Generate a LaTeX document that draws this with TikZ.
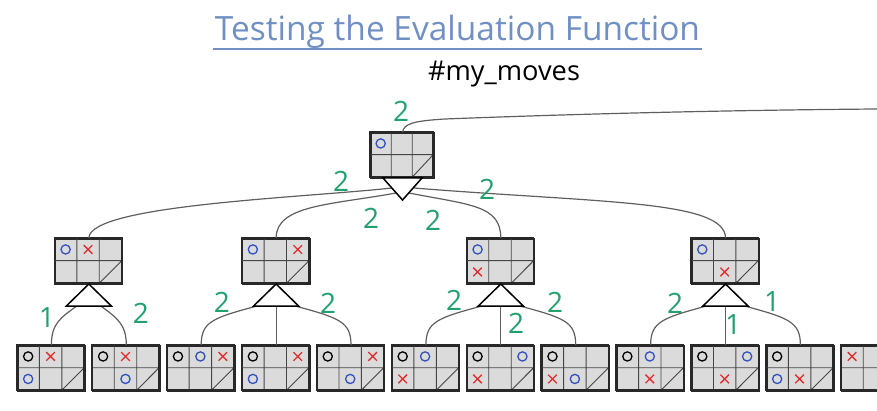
\documentclass[tikz,border=0pt]{standalone}
\usepackage{fontspec}
\newfontfamily\handfont{Open Sans}
\usetikzlibrary{calc}
\definecolor{titleblue}{RGB}{112,144,196}
\definecolor{labgreen}{RGB}{34,160,112}
\definecolor{boardfill}{RGB}{219,219,219}
\definecolor{boardedge}{RGB}{40,40,40}
\definecolor{gridc}{RGB}{70,70,70}
\definecolor{connc}{RGB}{95,95,95}
\definecolor{oblue}{RGB}{50,80,190}
\definecolor{xred}{RGB}{225,45,45}
\tikzset{
  board/.style={draw=boardedge, line width=1.6pt, fill=boardfill, rectangle, inner sep=0pt, minimum height=45pt},
  gridln/.style={draw=gridc, line width=0.9pt},
  conn/.style={draw=connc, line width=1.2pt},
  tri/.style={draw=black, line width=1.5pt, fill=white, line join=miter},
  lab/.style={text=labgreen, font=\handfont\fontsize{28}{28}\selectfont, inner sep=0pt},
  omk/.style={line width=1.3pt},
  xmk/.style={draw=xred, line width=1.3pt},
}
\newcommand{\bdO}[3]{\draw[omk, draw=#3] ({(#1+0.5)*\cw},{(#2+0.5)*22.5}) circle (4.6pt);}
\newcommand{\bdX}[2]{\draw[xmk] ({(#1+0.5)*\cw-4.3},{(#2+0.5)*22.5-4.3}) -- ++(8.6,8.6) ({(#1+0.5)*\cw-4.3},{(#2+0.5)*22.5+4.3}) -- ++(8.6,-8.6);}
\newcommand{\tttboard}[5]{%
  \node[board, minimum width=#4pt] (#1) at (#2,#3) {};
  \begin{scope}[shift={(#1.north west)}]
    \pgfmathsetmacro{\cw}{#4/3}
    \draw[gridln] (\cw,0) -- (\cw,45) (2*\cw,0) -- (2*\cw,45) (0,22.5) -- (#4,22.5) (2*\cw,45) -- (#4,22.5);
    #5
    \draw[draw=boardedge, line width=1.6pt] (0,0) rectangle (#4,45);
  \end{scope}}
\begin{document}
\begin{tikzpicture}[x=1pt,y=-1pt]
\useasboundingbox (0,0) rectangle (877,411);
\clip (0,0) rectangle (877,411);
% title
\node[anchor=base, text=titleblue, inner sep=0pt] (title) at (457.5,41) {\resizebox{485pt}{!}{\handfont\fontsize{31}{31}\selectfont Testing the Evaluation Function}};
\draw[titleblue, line width=1.6pt] (213,49) -- (702,49);
\node[anchor=base, inner sep=0pt] (tag) at (504,81) {\resizebox{152pt}{!}{\handfont\fontsize{27}{27}\selectfont \#my\_moves}};

% coordinates
\coordinate (edgeR) at (877,109);
\coordinate (rtL) at (383,178);
\coordinate (rtA) at (402.5,200);
\coordinate (rtR) at (422,178);
\coordinate (rs1) at (392,188);
\coordinate (rs2) at (396,193);
\coordinate (rs3) at (409,193);
\coordinate (rs4) at (414,188);

% boards
\tttboard{root}{402.5}{155.5}{63}{\bdO{0}{0}{oblue}}
\tttboard{A}{88.85}{261.5}{67.3}{\bdO{0}{0}{oblue}\bdX{1}{0}}
\tttboard{B}{276.1}{261.5}{67.3}{\bdO{0}{0}{oblue}\bdX{2}{0}}
\tttboard{C}{500.8}{261.5}{67.3}{\bdO{0}{0}{oblue}\bdX{0}{1}}
\tttboard{D}{725.5}{261.5}{67.3}{\bdO{0}{0}{oblue}\bdX{1}{1}}

\tttboard{L1}{51.4}{368.5}{67.3}{\bdO{0}{0}{black}\bdX{1}{0}\bdO{0}{1}{oblue}}
\tttboard{L2}{126.3}{368.5}{67.3}{\bdO{0}{0}{black}\bdX{1}{0}\bdO{1}{1}{oblue}}
\tttboard{L3}{201.2}{368.5}{67.3}{\bdO{0}{0}{black}\bdO{1}{0}{oblue}\bdX{2}{0}}
\tttboard{L4}{276.1}{368.5}{67.3}{\bdO{0}{0}{black}\bdX{2}{0}\bdO{0}{1}{oblue}}
\tttboard{L5}{351.0}{368.5}{67.3}{\bdO{0}{0}{black}\bdX{2}{0}\bdO{1}{1}{oblue}}
\tttboard{L6}{425.9}{368.5}{67.3}{\bdO{0}{0}{black}\bdO{1}{0}{oblue}\bdX{0}{1}}
\tttboard{L7}{500.8}{368.5}{67.3}{\bdO{0}{0}{black}\bdO{2}{0}{oblue}\bdX{0}{1}}
\tttboard{L8}{575.7}{368.5}{67.3}{\bdO{0}{0}{black}\bdX{0}{1}\bdO{1}{1}{oblue}}
\tttboard{L9}{650.6}{368.5}{67.3}{\bdO{0}{0}{black}\bdO{1}{0}{oblue}\bdX{1}{1}}
\tttboard{L10}{725.5}{368.5}{67.3}{\bdO{0}{0}{black}\bdO{2}{0}{oblue}\bdX{1}{1}}
\tttboard{L11}{800.4}{368.5}{67.3}{\bdO{0}{0}{black}\bdO{0}{1}{oblue}\bdX{1}{1}}
\tttboard{L12}{875.3}{368.5}{67.3}{\bdX{0}{0}}

% level-1 triangle coordinates
\foreach \n/\cx in {A/88.85,B/276.1,C/500.8,D/725.5}{
  \coordinate (\n-ta) at (\cx,284);
  \coordinate (\n-tl) at ({\cx-22.5},306);
  \coordinate (\n-tr) at ({\cx+22.5},306);
  \coordinate (\n-s1) at ({\cx-12},306);
  \coordinate (\n-s2) at ({\cx+12},306);
  \coordinate (\n-sl) at ({\cx-19},306);
  \coordinate (\n-sm) at (\cx,306);
  \coordinate (\n-sr) at ({\cx+19},306);
}

% connectors
\draw[conn] (root.north) .. controls (404,124) and (412,121) .. (445,119) .. controls (600,113) and (750,110) .. (edgeR);
\draw[conn] (rs1) .. controls (300,198) and (88.85,205) .. (A.north);
\draw[conn] (rs2) .. controls (330,205) and (276.1,205) .. (B.north);
\draw[conn] (rs3) .. controls (470,205) and (500.8,205) .. (C.north);
\draw[conn] (rs4) .. controls (600,203) and (725.5,200) .. (D.north);

\draw[conn] (A-s1) .. controls (60,318) and (51.4,324) .. (L1.north);
\draw[conn] (A-s2) .. controls (117,318) and (126.3,324) .. (L2.north);
\draw[conn] (B-sl) .. controls (212,318) and (201.2,322) .. (L3.north);
\draw[conn] (B-sm) -- (L4.north);
\draw[conn] (B-sr) .. controls (340,318) and (351,322) .. (L5.north);
\draw[conn] (C-sl) .. controls (437,318) and (425.9,322) .. (L6.north);
\draw[conn] (C-sm) -- (L7.north);
\draw[conn] (C-sr) .. controls (565,318) and (575.7,322) .. (L8.north);
\draw[conn] (D-sl) .. controls (662,318) and (650.6,322) .. (L9.north);
\draw[conn] (D-sm) -- (L10.north);
\draw[conn] (D-sr) .. controls (789,318) and (800.4,322) .. (L11.north);

% triangles
\draw[tri] (rtL) -- (rtA) -- (rtR) -- cycle;
\foreach \n in {A,B,C,D}{\draw[tri] (\n-ta) -- (\n-tl) -- (\n-tr) -- cycle;}

% labels
\node[lab] (lr) at (401,111) {2};
\node[lab] (l1) at (341,181) {2};
\node[lab] (l2) at (371,218) {2};
\node[lab] (l3) at (433,220) {2};
\node[lab] (l4) at (487,189) {2};
\node[lab] (la1) at (47,318) {1};
\node[lab] (la2) at (141,313) {2};
\node[lab] (lb1) at (222,302) {2};
\node[lab] (lb2) at (328,303) {2};
\node[lab] (lc1) at (454,300) {2};
\node[lab] (lc2) at (516,323) {2};
\node[lab] (lc3) at (555,302) {2};
\node[lab] (ld1) at (675,303) {2};
\node[lab] (ld2) at (733,325) {1};
\node[lab] (ld3) at (772,302) {1};
\end{tikzpicture}
\end{document}
